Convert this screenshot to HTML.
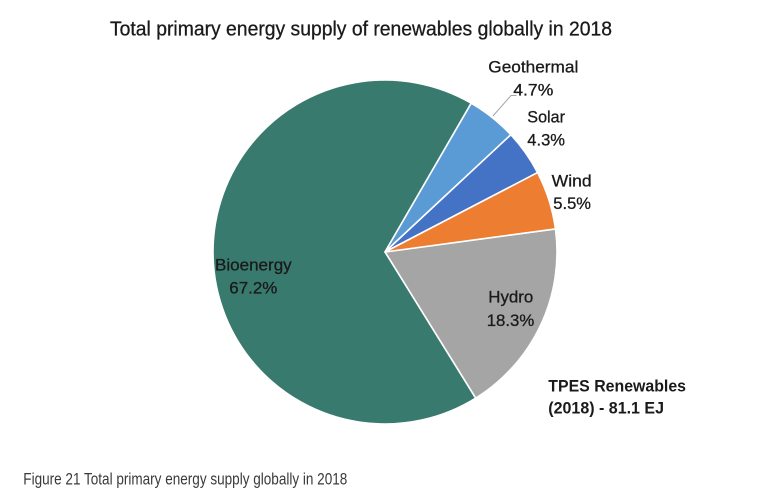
<!DOCTYPE html>
<html>
<head>
<meta charset="utf-8">
<style>
  html, body { margin: 0; padding: 0; background: #ffffff; }
  body { width: 770px; height: 500px; overflow: hidden; }
  svg { display: block; }
  text { font-family: "Liberation Sans", sans-serif; fill: #1a1a1a; }
  .lbl { stroke: #1a1a1a; stroke-width: 0.3px; }
</style>
</head>
<body>
<svg width="770" height="500" viewBox="0 0 770 500" xmlns="http://www.w3.org/2000/svg">
  <rect x="0" y="0" width="770" height="500" fill="#ffffff"/>

  <!-- Title -->
  <text class="lbl" x="110" y="35.5" font-size="20.5" textLength="502" lengthAdjust="spacingAndGlyphs">Total primary energy supply of renewables globally in 2018</text>

  <!-- Pie slices: center (385,252), r=172 -->
  <g stroke="#ffffff" stroke-width="1.6" stroke-linejoin="round">
    <path d="M385,252 L555.45,228.95 A172,172 0 0 1 475.68,398.15 Z" fill="#a5a5a5"/>
    <path d="M385,252 L475.68,398.15 A172,172 0 1 1 471.26,103.19 Z" fill="#387a6e"/>
    <path d="M385,252 L471.26,103.19 A172,172 0 0 1 510.84,134.74 Z" fill="#5b9bd5"/>
    <path d="M385,252 L510.84,134.74 A172,172 0 0 1 537.57,172.58 Z" fill="#4472c4"/>
    <path d="M385,252 L537.57,172.58 A172,172 0 0 1 555.45,228.95 Z" fill="#ed7d31"/>
  </g>

  <!-- Leader line for Geothermal -->
  <polyline points="516.5,95.5 511,95.5 493,116" fill="none" stroke="#a6a6a6" stroke-width="1"/>

  <!-- Labels -->
  <text class="lbl" x="488.3" y="72.5" font-size="17" textLength="90" lengthAdjust="spacingAndGlyphs">Geothermal</text>
  <text class="lbl" x="513.3" y="95.7" font-size="17" textLength="40" lengthAdjust="spacingAndGlyphs">4.7%</text>

  <text class="lbl" x="527.3" y="122.3" font-size="17" textLength="37.7" lengthAdjust="spacingAndGlyphs">Solar</text>
  <text class="lbl" x="527.3" y="145.7" font-size="17" textLength="37.7" lengthAdjust="spacingAndGlyphs">4.3%</text>

  <text class="lbl" x="551.7" y="186.7" font-size="17" textLength="40" lengthAdjust="spacingAndGlyphs">Wind</text>
  <text class="lbl" x="553.3" y="209" font-size="17" textLength="37.7" lengthAdjust="spacingAndGlyphs">5.5%</text>

  <text class="lbl" x="488.3" y="302.7" font-size="17" textLength="45" lengthAdjust="spacingAndGlyphs">Hydro</text>
  <text class="lbl" x="486.7" y="326" font-size="17" textLength="47.6" lengthAdjust="spacingAndGlyphs">18.3%</text>

  <text class="lbl" x="215" y="270.5" font-size="17" textLength="76.7" lengthAdjust="spacingAndGlyphs">Bioenergy</text>
  <text class="lbl" x="229.3" y="293.5" font-size="17" textLength="48" lengthAdjust="spacingAndGlyphs">67.2%</text>

  <text x="548.3" y="391.7" font-size="16.5" font-weight="bold" textLength="137.7" lengthAdjust="spacingAndGlyphs">TPES Renewables</text>
  <text x="548.3" y="413.3" font-size="16.5" font-weight="bold" textLength="115.7" lengthAdjust="spacingAndGlyphs">(2018) - 81.1 EJ</text>

  <!-- Caption -->
  <text x="23.3" y="484.5" font-size="16.5" style="fill:#3a3a3a" textLength="324" lengthAdjust="spacingAndGlyphs">Figure 21 Total primary energy supply globally in 2018</text>
</svg>
</body>
</html>
